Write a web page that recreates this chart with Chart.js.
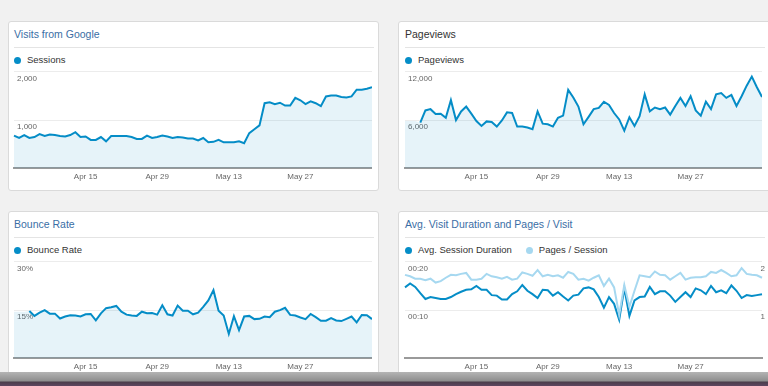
<!DOCTYPE html>
<html>
<head>
<meta charset="utf-8">
<script src="https://cdn.jsdelivr.net/npm/chart.js@4"></script>
<style>
  body { margin:0; width:768px; height:386px; overflow:hidden; background:#f1f1f1; font-family:"Liberation Sans", Arial, sans-serif; position:relative; }
  .card { position:absolute; background:#fff; border:1px solid #dadada; border-radius:3px; }
  .title { position:absolute; font-size:10.5px; color:#3a6ea5; white-space:nowrap; }
  .title.dark { color:#333; }
  .sep { position:absolute; height:1px; background:#e4e4e4; }
  .legend { position:absolute; font-size:9.5px; color:#333; white-space:nowrap; }
  .legend span.dot { display:inline-block; width:7px; height:7px; border-radius:50%; margin-right:6px; vertical-align:-1px; }
  .legend span.item { margin-right:14px; }
  .box { position:absolute; }
  .band { position:absolute; left:0; top:372px; width:768px; height:14px;
          background:linear-gradient(#b4b4b4 0px, #8e8e8e 9px, #4b3d4b 10px, #5e4660 14px); }
</style>
</head>
<body>
<div class="card" style="left:8px;top:21px;width:369px;height:168px"></div>
<div class="card" style="left:398px;top:21px;width:380px;height:168px"></div>
<div class="card" style="left:8px;top:211px;width:369px;height:175px"></div>
<div class="card" style="left:398px;top:211px;width:380px;height:175px"></div>

<div class="title" style="left:14px;top:28px">Visits from Google</div>
<div class="sep" style="left:14px;top:47px;width:360px"></div>
<div class="legend" style="left:14px;top:54px"><span class="dot" style="background:#058dc7"></span>Sessions</div>

<div class="title dark" style="left:405px;top:28px">Pageviews</div>
<div class="sep" style="left:405px;top:47px;width:360px"></div>
<div class="legend" style="left:405px;top:54px"><span class="dot" style="background:#058dc7"></span>Pageviews</div>

<div class="title" style="left:14px;top:218px">Bounce Rate</div>
<div class="sep" style="left:14px;top:237px;width:360px"></div>
<div class="legend" style="left:14px;top:244px"><span class="dot" style="background:#058dc7"></span>Bounce Rate</div>

<div class="title" style="left:405px;top:218px">Avg. Visit Duration and Pages / Visit</div>
<div class="sep" style="left:405px;top:237px;width:360px"></div>
<div class="legend" style="left:405px;top:244px"><span class="item"><span class="dot" style="background:#058dc7"></span>Avg. Session Duration</span><span class="item"><span class="dot" style="background:#a6d8f0"></span>Pages / Session</span></div>

<div class="box" style="left:8px;top:64px;width:364px;height:122px"><canvas id="c1"></canvas></div>
<div class="box" style="left:399px;top:64px;width:363px;height:122px"><canvas id="c2"></canvas></div>
<div class="box" style="left:8px;top:254px;width:364px;height:122px"><canvas id="c3"></canvas></div>
<div class="box" style="left:399px;top:254px;width:369px;height:122px"><canvas id="c4"></canvas></div>

<div class="band"></div>

<script>
var days = ['Apr 1','Apr 2','Apr 3','Apr 4','Apr 5','Apr 6','Apr 7','Apr 8','Apr 9','Apr 10',
  'Apr 11','Apr 12','Apr 13','Apr 14','Apr 15','Apr 16','Apr 17','Apr 18','Apr 19','Apr 20',
  'Apr 21','Apr 22','Apr 23','Apr 24','Apr 25','Apr 26','Apr 27','Apr 28','Apr 29','Apr 30',
  'May 1','May 2','May 3','May 4','May 5','May 6','May 7','May 8','May 9','May 10',
  'May 11','May 12','May 13','May 14','May 15','May 16','May 17','May 18','May 19','May 20',
  'May 21','May 22','May 23','May 24','May 25','May 26','May 27','May 28','May 29','May 30','May 31',
  'Jun 1','Jun 2','Jun 3','Jun 4','Jun 5','Jun 6','Jun 7','Jun 8','Jun 9','Jun 10'];
var tickDays = ['Apr 15','Apr 29','May 13','May 27'];

var sessions = [680,630,690,630,650,710,670,700,690,670,660,690,750,650,660,590,590,650,560,670,
  670,670,670,650,610,610,680,630,650,680,660,630,650,640,620,620,580,630,540,550,
  590,540,540,540,560,520,730,810,890,1350,1370,1330,1360,1300,1300,1460,1410,1330,1390,1350,
  1290,1490,1510,1510,1480,1470,1490,1630,1630,1650,1680];
var pageviews = [5900,5900,5900,5680,7200,7360,6760,6800,6280,8480,6000,7080,7680,6800,5880,5280,5840,5760,5200,5960,
  6960,6880,5200,5200,5080,4880,7080,5560,5480,5200,6280,6560,9760,8800,7680,5480,6400,7360,7520,8280,
  7880,6880,6080,4680,6360,5280,6480,9200,7080,7560,7360,7560,6680,7760,8760,7760,8960,7200,6560,8280,
  7360,9200,9360,8760,9120,7760,8960,10280,11400,10080,8880];
var bounceRate = [14.5,14.5,14.5,14.7,13.2,14.2,15.0,13.9,13.9,12.4,13.0,13.4,13.3,13.0,13.7,13.8,11.8,14.0,15.6,15.9,
  16.3,14.5,13.6,13.3,13.2,14.5,14.0,14.1,13.6,16.5,13.7,13.3,16.4,14.8,14.8,13.7,14.2,16.0,18.0,21.2,
  14.8,13.3,7.6,13.1,8.8,13.0,13.2,12.2,12.3,13.0,12.8,14.5,15.0,15.7,13.5,13.3,12.7,12.2,13.8,12.8,
  11.7,11.7,12.5,11.8,11.6,12.3,13.0,11.2,13.5,13.4,12.2];
var sessionDuration = [14.7,15.5,14.8,13.5,12.3,12.7,12.5,12.3,12.3,12.7,13.3,13.8,14.2,14.3,15.0,14.2,14.2,13.1,13.0,12.2,
  12.2,13.3,13.9,15.2,14.0,13.3,12.5,14.2,14.1,13.0,13.7,12.8,12.0,13.0,13.2,14.5,14.7,14.3,12.7,10.5,
  12.7,11.3,8.0,14.5,8.8,12.0,12.7,12.8,14.8,13.3,13.9,13.9,13.0,11.7,12.7,13.7,12.7,14.5,14.1,13.3,
  15.0,13.7,14.1,13.5,15.1,14.0,12.5,13.1,12.9,13.1,13.3];
var pagesPerSession = [1.73,1.70,1.65,1.65,1.62,1.65,1.57,1.60,1.67,1.73,1.72,1.75,1.77,1.63,1.63,1.65,1.75,1.70,1.68,1.65,
  1.69,1.63,1.65,1.78,1.75,1.71,1.83,1.70,1.73,1.70,1.72,1.67,1.79,1.75,1.63,1.65,1.61,1.67,1.72,1.50,
  1.65,1.47,0.90,1.52,1.07,1.40,1.72,1.70,1.68,1.80,1.73,1.72,1.63,1.70,1.77,1.63,1.67,1.68,1.68,1.70,
  1.79,1.77,1.83,1.77,1.70,1.72,1.87,1.75,1.73,1.72,1.67];

var blue = '#058dc7';
var lightBlue = '#a6d8f0';
var fillBlue = 'rgba(5,141,199,0.1)';
var fontName = '"Liberation Sans", Arial, sans-serif';

// GA hides the start of the line behind the axis label
var hideStart = { borderColor: function(c){ return c.p0DataIndex < 3 ? 'rgba(0,0,0,0)' : undefined; } };

function yAxis(max, step, fmt, pos){
  return {
    position: pos || 'left',
    min: 0, max: max,
    border: { display: false },
    grid: { color: '#ececec', drawTicks: false, display: pos !== 'right' },
    ticks: {
      stepSize: step, mirror: true, padding: 3, labelOffset: 7,
      color: '#666', font: { family: fontName, size: 8 },
      callback: function(v){ return v === 0 ? null : fmt(v); }
    }
  };
}

function xAxis(){
  return {
    grid: { display: false, drawTicks: false },
    border: { display: true, color: '#9a9a9a', width: 2 },
    ticks: {
      autoSkip: false, maxRotation: 0, padding: 4,
      color: '#666', font: { family: fontName, size: 8 },
      callback: function(v, i){ return tickDays.indexOf(days[i]) >= 0 ? days[i] : null; }
    }
  };
}

// area = one fill-only dataset + one line-only dataset from the same values
function area(values, cutStart){
  var fillSet = { data: values, borderWidth: 0, borderColor: 'rgba(0,0,0,0)', backgroundColor: fillBlue, fill: 'origin' };
  var lineSet = { data: values, borderColor: blue, fill: false };
  if (cutStart) lineSet.segment = hideStart;
  return [fillSet, lineSet];
}

function makeChart(id, datasets, scales){
  new Chart(document.getElementById(id), {
    type: 'line',
    data: { labels: days, datasets: datasets },
    options: {
      responsive: true, maintainAspectRatio: false, animation: false,
      layout: { padding: { top: 2, left: 0, right: 0, bottom: 0 } },
      plugins: { legend: { display: false }, tooltip: { enabled: false } },
      elements: { point: { radius: 0 }, line: { tension: 0, borderWidth: 2 } },
      scales: scales
    }
  });
}

makeChart('c1', area(sessions, false),
  { x: xAxis(), y: yAxis(2000, 1000, function(v){ return v.toLocaleString('en-US'); }) });

makeChart('c2', area(pageviews, true),
  { x: xAxis(), y: yAxis(12000, 6000, function(v){ return v.toLocaleString('en-US'); }) });

makeChart('c3', area(bounceRate, true),
  { x: xAxis(), y: yAxis(30, 15, function(v){ return v + '%'; }) });

makeChart('c4', [
    { data: pagesPerSession, borderColor: lightBlue, yAxisID: 'y1', fill: false },
    { data: sessionDuration, borderColor: blue, yAxisID: 'y', fill: false }
  ],
  { x: xAxis(),
    y: yAxis(20, 10, function(v){ return '00:' + (v < 10 ? '0' + v : v); }),
    y1: yAxis(2, 1, function(v){ return String(v); }, 'right') });
</script>
</body>
</html>
